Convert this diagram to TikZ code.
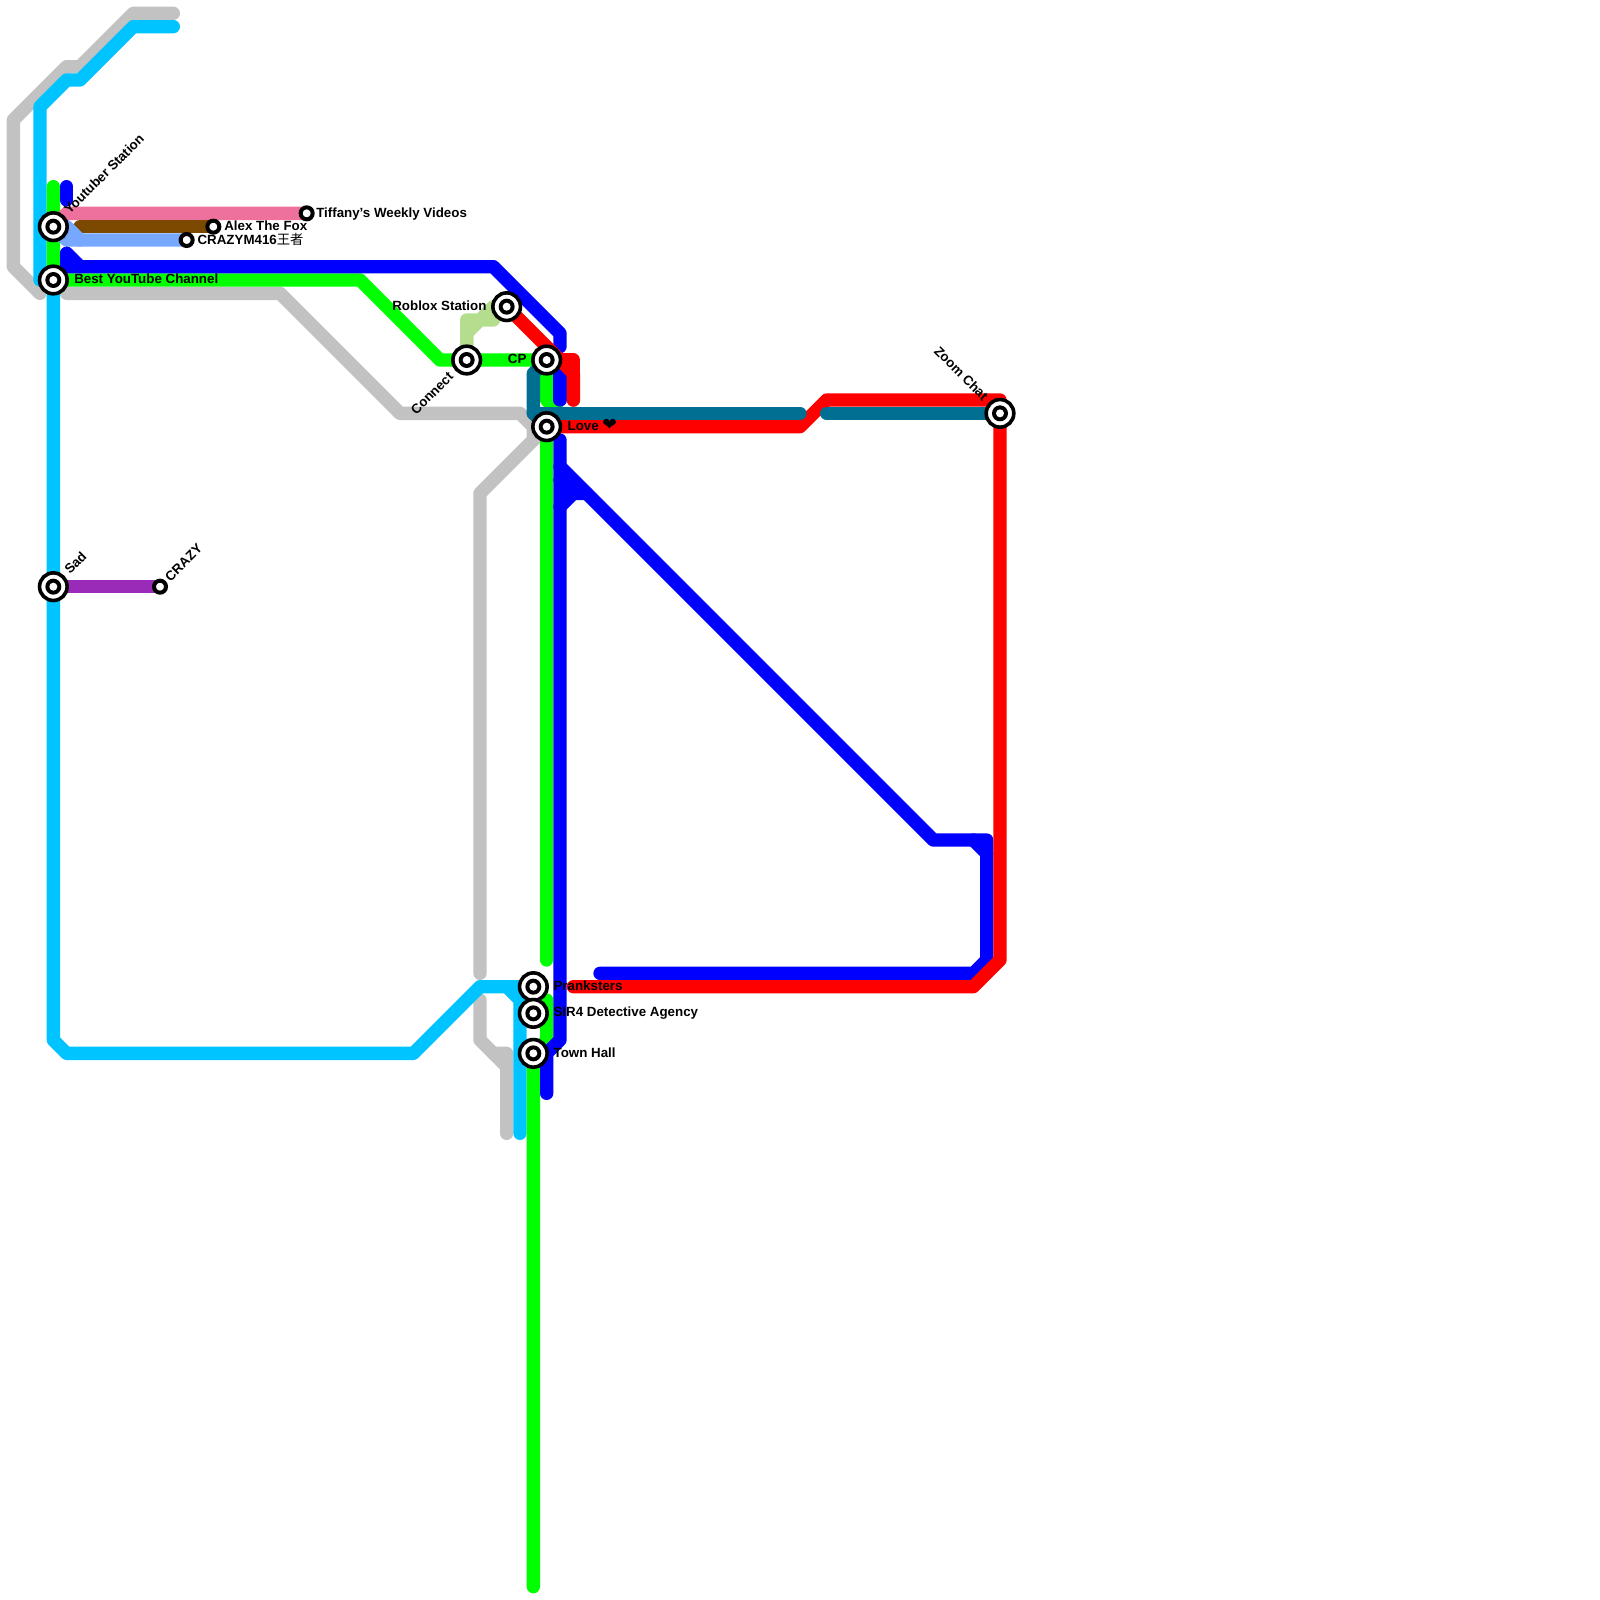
\documentclass[tikz,border=0pt]{standalone}
\usepackage{fontspec}
\setmainfont{Liberation Sans}
\newfontfamily\cjkfont{Noto Sans CJK SC}
\newfontfamily\symfont{DejaVu Sans}
\usetikzlibrary{backgrounds}
\definecolor{linegrey}{HTML}{C2C2C2}
\definecolor{linecyan}{HTML}{00C4FF}
\definecolor{linegreen}{HTML}{00FF00}
\definecolor{linesage}{HTML}{B4DD8E}
\definecolor{linepink}{HTML}{EE709C}
\definecolor{linebrown}{HTML}{7B4A00}
\definecolor{linesky}{HTML}{77A8FF}
\definecolor{linepurple}{HTML}{9A2BB8}
\definecolor{lineblue}{HTML}{0000FF}
\definecolor{linered}{HTML}{FF0000}
\definecolor{lineteal}{HTML}{006F91}

\begin{document}
\begin{tikzpicture}[x=10pt,y=-10pt,
every node/.style={font=\bfseries\fontsize{10}{11}\selectfont,inner sep=0pt},
route/.style={line width=10pt,line cap=round,line join=round},
hub/.style={circle,draw=black,fill=white,line width=2.7pt,minimum size=20.7pt,
  path picture={\fill[black] (path picture bounding box.center) circle (6pt);
  \fill[white] (path picture bounding box.center) circle (3pt);}},
halt/.style={circle,draw=black,fill=white,line width=3pt,minimum size=9pt}]
\useasboundingbox (0,0) rectangle (120,120);
\node[hub] (youtuber) at (4,17) {};
\node[hub] (bestyt) at (4,21) {};
\node[hub] (sad) at (4,44) {};
\node[halt] (crazy) at (12,44) {};
\node[halt] (tiffany) at (23,16) {};
\node[halt] (alexfox) at (16,17) {};
\node[halt] (crazym) at (14,18) {};
\node[hub] (roblox) at (38,23) {};
\node[hub] (connect) at (35,27) {};
\node[hub] (cp) at (41,27) {};
\node[hub] (love) at (41,32) {};
\node[hub] (zoomchat) at (75,31) {};
\node[hub] (pranksters) at (40,74) {};
\node[hub] (sirfour) at (40,76) {};
\node[hub] (townhall) at (40,79) {};
\begin{scope}[on background layer]
\draw[route,linegrey] (13,1)--(10,1)--(6,5)--(5,5)--(1,9)--(1,20)--(3,22);
\draw[route,linegrey] (5,22)--(21,22)--(30,31)--(39,31)--(40,32)--(40,33)--(36,37)--(36,73);
\draw[route,linegrey] (love.center)--(40,33);
\draw[route,linegrey] (36,75)--(36,78)--(37,79)--(38,79)--(38,85);
\draw[route,linegrey] (37,79)--(38,80);
\draw[route,linecyan] (13,2)--(10,2)--(6,6)--(5,6)--(3,8)--(3,21)--(bestyt.center)--(4,78)--(5,79)--(31,79)--(36,74)--(pranksters.center);
\draw[route,linecyan] (38,74)--(39,75)--(39,85);
\draw[route,linegreen] (4,14)--(bestyt.center)--(27,21)--(33,27)--(connect.center)--(cp.center)--(41,30)--(42,31);
\draw[route,linegreen] (love.center)--(41,72);
\draw[route,linegreen] (41,75)--(41,78)--(townhall.center)--(40,119);
\draw[route,linesage] (connect.center)--(35,25)--(36,24)--(37,24);
\draw[route,linesage] (35,26)--(35,24)--(36,24)--(37,23)--(roblox.center);
\draw[route,lineblue] (5,14)--(5,15);
\draw[route,linepink] (youtuber.center)--(5,16)--(tiffany.center);
\draw[route,linebrown] (6,17)--(alexfox.center);
\draw[route,linesky] (youtuber.center)--(5,17)--(6,18)--(crazym.center);
\draw[route,linesky] (youtuber.center)--(5,18)--(6,18);
\draw[route,linepurple] (sad.center)--(crazy.center);
\draw[route,lineblue] (5,19)--(5,20)--(37,20)--(42,25)--(42,26);
\draw[route,lineblue] (5,19)--(6,20);
\draw[route,lineblue] (42,28)--(42,30);
\draw[route,lineblue] (42,33)--(42,78)--(41,79)--(41,82);
\draw[route,lineblue] (42,35)--(70,63)--(74,63)--(74,72)--(73,73)--(45,73);
\draw[route,lineblue] (73,63)--(74,64);
\draw[route,lineblue] (42,38)--(43,37)--(44,37);
\draw[route,lineblue] (42,36)--(43,37);
\draw[route,linered] (roblox.center)--(43,28)--(43,30);
\draw[route,linered] (cp.center)--(43,27)--(43,30);
\draw[route,linered] (love.center)--(60,32)--(62,30)--(75,30)--(zoomchat.center)--(75,72)--(73,74)--(43,74);
\draw[route,lineteal] (cp.center)--(40,28)--(40,31)--(love.center);
\draw[route,lineteal] (40,31)--(60,31);
\draw[route,lineteal] (62,31)--(zoomchat.center);
\end{scope}
% station names
\node[rotate=45] (youtuberlabel) at (7.8,13.05) {Youtuber Station};
\node[anchor=west] (bestytlabel) at (5.55,20.9) {Best YouTube Channel};
\node[rotate=45] (sadlabel) at (5.66,42.2) {Sad};
\node[rotate=45] (crazylabel) at (13.77,42.2) {CRAZY};
\node[anchor=west] (alexfoxlabel) at (16.8,16.95) {Alex The Fox};
\node[anchor=west] (crazymlabel) at (14.8,17.95) {CRAZYM416{\cjkfont\mdseries 王者}};
\node[anchor=west] (tiffanylabel) at (23.7,16.03) {Tiffany’s Weekly Videos};
\node[anchor=east] (robloxlabel) at (36.5,22.9) {Roblox Station};
\node[rotate=45] (connectlabel) at (32.4,29.5) {Connect};
\node[anchor=east] (cplabel) at (39.5,26.9) {CP};
\node[anchor=west] (lovelabel) at (42.55,31.9) {Love {\symfont\fontsize{13}{13}\selectfont ❤}};
\node[rotate=-45] (zoomchatlabel) at (72.1,28) {Zoom Chat};
\node[anchor=west] (prankterslabel) at (41.5,73.95) {Pranksters};
\node[anchor=west] (sirfourlabel) at (41.5,75.98) {SIR4 Detective Agency};
\node[anchor=west] (townhalllabel) at (41.5,78.95) {Town Hall};
\end{tikzpicture}
\end{document}
